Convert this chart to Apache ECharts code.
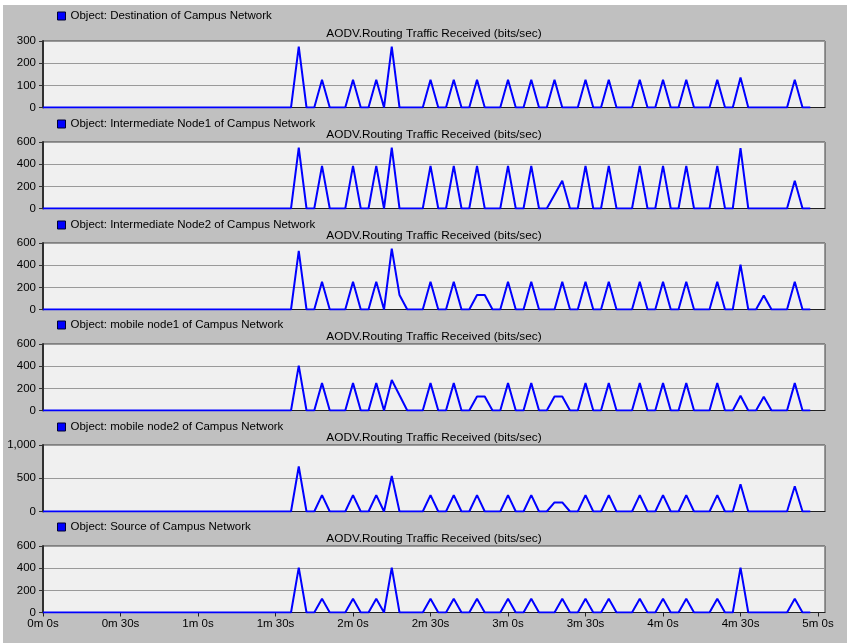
<!DOCTYPE html>
<html>
<head>
<meta charset="utf-8">
<title>AODV Routing Traffic Received</title>
<script src="https://cdn.jsdelivr.net/npm/echarts@6/dist/echarts.min.js"></script>
<style>
    html, body { margin: 0; padding: 0; background: #fff; }
    #cn { width: 847px; height: 643px; }
</style>
</head>
<body>
<div id="cn"></div>
<script>
'use strict';

// sample times (seconds), one bucket every 3s
const times = [
    0, 3, 6, 9, 12, 15, 18, 21, 24, 27,
    30, 33, 36, 39, 42, 45, 48, 51, 54, 57,
    60, 63, 66, 69, 72, 75, 78, 81, 84, 87,
    90, 93, 96, 99, 102, 105, 108, 111, 114, 117,
    120, 123, 126, 129, 132, 135, 138, 141, 144, 147,
    150, 153, 156, 159, 162, 165, 168, 171, 174, 177,
    180, 183, 186, 189, 192, 195, 198, 201, 204, 207,
    210, 213, 216, 219, 222, 225, 228, 231, 234, 237,
    240, 243, 246, 249, 252, 255, 258, 261, 264, 267,
    270, 273, 276, 279, 282, 285, 288, 291, 294, 297
];

const destination = [
    0, 0, 0, 0, 0, 0, 0, 0, 0, 0,
    0, 0, 0, 0, 0, 0, 0, 0, 0, 0,
    0, 0, 0, 0, 0, 0, 0, 0, 0, 0,
    0, 0, 0, 275, 0, 0, 125, 0, 0, 0,
    125, 0, 0, 125, 0, 275, 0, 0, 0, 0,
    125, 0, 0, 125, 0, 0, 125, 0, 0, 0,
    125, 0, 0, 125, 0, 0, 125, 0, 0, 0,
    125, 0, 0, 125, 0, 0, 0, 125, 0, 0,
    125, 0, 0, 125, 0, 0, 0, 125, 0, 0,
    135, 0, 0, 0, 0, 0, 0, 125, 0, 0
];

const intermediate1 = [
    0, 0, 0, 0, 0, 0, 0, 0, 0, 0,
    0, 0, 0, 0, 0, 0, 0, 0, 0, 0,
    0, 0, 0, 0, 0, 0, 0, 0, 0, 0,
    0, 0, 0, 550, 0, 0, 385, 0, 0, 0,
    385, 0, 0, 385, 0, 550, 0, 0, 0, 0,
    385, 0, 0, 385, 0, 0, 385, 0, 0, 0,
    385, 0, 0, 385, 0, 0, 125, 250, 0, 0,
    385, 0, 0, 385, 0, 0, 0, 385, 0, 0,
    385, 0, 0, 385, 0, 0, 0, 385, 0, 0,
    545, 0, 0, 0, 0, 0, 0, 250, 0, 0
];

const intermediate2 = [
    0, 0, 0, 0, 0, 0, 0, 0, 0, 0,
    0, 0, 0, 0, 0, 0, 0, 0, 0, 0,
    0, 0, 0, 0, 0, 0, 0, 0, 0, 0,
    0, 0, 0, 530, 0, 0, 250, 0, 0, 0,
    250, 0, 0, 250, 0, 550, 130, 0, 0, 0,
    250, 0, 0, 250, 0, 0, 130, 130, 0, 0,
    250, 0, 0, 250, 0, 0, 0, 250, 0, 0,
    250, 0, 0, 250, 0, 0, 0, 250, 0, 0,
    250, 0, 0, 250, 0, 0, 0, 250, 0, 0,
    405, 0, 0, 127, 0, 0, 0, 250, 0, 0
];

const mobile1 = [
    0, 0, 0, 0, 0, 0, 0, 0, 0, 0,
    0, 0, 0, 0, 0, 0, 0, 0, 0, 0,
    0, 0, 0, 0, 0, 0, 0, 0, 0, 0,
    0, 0, 0, 405, 0, 0, 247, 0, 0, 0,
    247, 0, 0, 247, 0, 275, 137, 0, 0, 0,
    247, 0, 0, 247, 0, 0, 127, 127, 0, 0,
    247, 0, 0, 247, 0, 0, 127, 127, 0, 0,
    247, 0, 0, 247, 0, 0, 0, 247, 0, 0,
    247, 0, 0, 247, 0, 0, 0, 247, 0, 0,
    133, 0, 0, 124, 0, 0, 0, 247, 0, 0
];

const mobile2 = [
    0, 0, 0, 0, 0, 0, 0, 0, 0, 0,
    0, 0, 0, 0, 0, 0, 0, 0, 0, 0,
    0, 0, 0, 0, 0, 0, 0, 0, 0, 0,
    0, 0, 0, 677, 0, 0, 247, 0, 0, 0,
    247, 0, 0, 247, 0, 535, 0, 0, 0, 0,
    247, 0, 0, 247, 0, 0, 247, 0, 0, 0,
    247, 0, 0, 247, 0, 0, 136, 136, 0, 0,
    247, 0, 0, 247, 0, 0, 0, 247, 0, 0,
    247, 0, 0, 247, 0, 0, 0, 247, 0, 0,
    409, 0, 0, 0, 0, 0, 0, 379, 0, 0
];

const source = [
    0, 0, 0, 0, 0, 0, 0, 0, 0, 0,
    0, 0, 0, 0, 0, 0, 0, 0, 0, 0,
    0, 0, 0, 0, 0, 0, 0, 0, 0, 0,
    0, 0, 0, 405, 0, 0, 123, 0, 0, 0,
    123, 0, 0, 123, 0, 405, 0, 0, 0, 0,
    123, 0, 0, 123, 0, 0, 123, 0, 0, 0,
    123, 0, 0, 123, 0, 0, 0, 123, 0, 0,
    123, 0, 0, 123, 0, 0, 0, 123, 0, 0,
    123, 0, 0, 123, 0, 0, 0, 123, 0, 0,
    405, 0, 0, 0, 0, 0, 0, 123, 0, 0
];

const objectNames = [
    'Object: Destination of Campus Network',
    'Object: Intermediate Node1 of Campus Network',
    'Object: Intermediate Node2 of Campus Network',
    'Object: mobile node1 of Campus Network',
    'Object: mobile node2 of Campus Network',
    'Object: Source of Campus Network'
];
const seriesValues = [destination, intermediate1, intermediate2, mobile1, mobile2, source];
const yMax = [300, 600, 600, 600, 1000, 600];
const yInterval = [100, 200, 200, 200, 500, 200];
const statName = 'AODV.Routing Traffic Received (bits/sec)';

// layout
const gridTop = [41, 142, 243, 344, 445, 546];
const legendMid = [16, 124, 225, 325, 427, 527];
const plotLeft = 43;
const plotRight = 825;
const plotH = 66.5;
const FONT = 'Liberation Sans, Arial, sans-serif';

const fmtTime = v => `${Math.floor(v / 60)}m ${Math.round(v % 60)}s`;

const chart = echarts.init(document.getElementById('cn'));

let grid = [], xAxis = [], yAxis = [], series = [], title = [], legend = [];

seriesValues.forEach((vals, i) => {
    const last = i === seriesValues.length - 1;
    grid.push({
        left: plotLeft,
        right: 847 - plotRight,
        top: gridTop[i],
        height: plotH,
        show: true,
        backgroundColor: '#f0f0f0',
        borderColor: '#404040',
        borderWidth: 1
    });
    xAxis.push({
        type: 'value',
        gridIndex: i,
        min: 0,
        max: 302.7,
        interval: 30,
        axisLine: { show: true, onZero: false, lineStyle: { color: '#202020', width: 1 } },
        axisTick: { show: last, length: 4, lineStyle: { color: '#202020' } },
        axisLabel: {
            show: last,
            showMaxLabel: false,
            margin: 5,
            color: '#000',
            fontFamily: FONT,
            fontSize: 11.5,
            formatter: fmtTime
        },
        splitLine: { show: false }
    });
    yAxis.push({
        type: 'value',
        gridIndex: i,
        min: 0,
        max: yMax[i],
        interval: yInterval[i],
        axisLine: { show: true, lineStyle: { color: '#303030', width: 2 } },
        axisTick: { show: true, length: 4, lineStyle: { color: '#303030' } },
        axisLabel: {
            margin: 7,
            color: '#000',
            fontFamily: FONT,
            fontSize: 11.5,
            formatter: v => v.toLocaleString('en-US')
        },
        splitLine: { show: true, lineStyle: { color: '#999999', width: 1 } }
    });
    series.push({
        name: objectNames[i],
        type: 'line',
        xAxisIndex: i,
        yAxisIndex: i,
        data: times.map((t, k) => [t, vals[k]]),
        symbol: 'none',
        showSymbol: false,
        animation: false,
        lineStyle: { color: '#0000ff', width: 2 },
        itemStyle: { color: '#0000ff' }
    });
    title.push({
        text: statName,
        left: (plotLeft + plotRight) / 2,
        top: gridTop[i] - 13,
        textAlign: 'center',
        padding: 0,
        textStyle: { fontFamily: FONT, fontSize: 11.8, fontWeight: 'normal', color: '#000' }
    });
    legend.push({
        data: [objectNames[i]],
        left: 57,
        top: legendMid[i] - 6,
        padding: 0,
        icon: 'rect',
        itemWidth: 8,
        itemHeight: 8,
        selectedMode: false,
        itemStyle: { color: '#0000ff', borderColor: '#000030', borderWidth: 1 },
        textStyle: { fontFamily: FONT, fontSize: 11.5, color: '#000' }
    });
});

const option = {
    animation: false,
    backgroundColor: '#c0c0c0',
    graphic: [
        { type: 'rect', left: 0, top: 0, shape: { width: 847, height: 5 }, style: { fill: '#ffffff' }, z: -10 },
        { type: 'rect', left: 0, top: 0, shape: { width: 3, height: 643 }, style: { fill: '#ffffff' }, z: -10 }
    ],
    title: title,
    legend: legend,
    grid: grid,
    xAxis: xAxis,
    yAxis: yAxis,
    series: series
};

chart.setOption(option);
</script>
</body>
</html>
